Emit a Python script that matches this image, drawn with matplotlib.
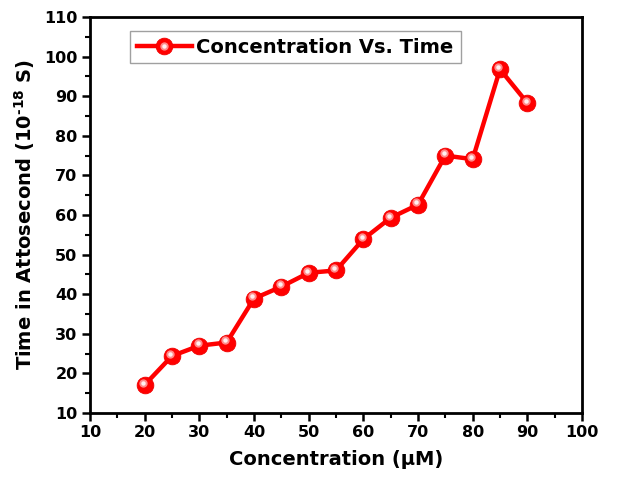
"""Concentration vs. time in attoseconds."""
import matplotlib
matplotlib.use("Agg")
import matplotlib.pyplot as plt
import matplotlib.transforms as mtransforms
from matplotlib.legend_handler import HandlerTuple
from matplotlib.ticker import MultipleLocator

# Data
conc = [20, 25, 30, 35, 40, 45, 50, 55, 60, 65, 70, 75, 80, 85, 90]
time_as = [17.1, 24.4, 27.0, 27.8, 38.9, 41.9, 45.4, 46.0, 53.9, 59.3,
           62.6, 75.0, 74.1, 96.8, 88.3]
x_ticks = [10, 20, 30, 40, 50, 60, 70, 80, 90, 100]
y_ticks = [10, 20, 30, 40, 50, 60, 70, 80, 90, 100, 110]

plt.rcParams["font.family"] = ["DejaVu Sans"]
plt.rcParams["font.weight"] = "bold"
plt.rcParams["mathtext.fontset"] = "custom"
plt.rcParams["mathtext.rm"] = "DejaVu Sans:bold"
plt.rcParams["mathtext.bf"] = "DejaVu Sans:bold"

fig = plt.figure(figsize=(6.22, 4.79), dpi=100)
ax = fig.add_axes([0.1447, 0.1378, 0.791, 0.8267])

line, = ax.plot(conc, time_as, color="#ff0000", lw=3.2, marker="o",
                markersize=12, markerfacecolor="#ff0000",
                markeredgecolor="#f00000", markeredgewidth=0.6, zorder=3)

# sphere-like highlight on each ball, shifted up-left
shift = mtransforms.ScaledTranslation(-1.3 / 72, 1.6 / 72, fig.dpi_scale_trans)
hl1, = ax.plot(conc, time_as, ls="none", marker="o", markersize=6,
               markerfacecolor="#ff8a8a", markeredgecolor="none",
               transform=ax.transData + shift, zorder=4)
hl2, = ax.plot(conc, time_as, ls="none", marker="o", markersize=3.2,
               markerfacecolor="#fff0f0", markeredgecolor="none",
               transform=ax.transData + shift, zorder=5)

ax.set_xlim(10, 100)
ax.set_ylim(10, 110)
ax.set_xticks(x_ticks)
ax.set_yticks(y_ticks)
ax.xaxis.set_minor_locator(MultipleLocator(5))
ax.yaxis.set_minor_locator(MultipleLocator(5))
ax.tick_params(which="major", direction="out", length=6, width=1.8,
               labelsize=11.5, pad=3)
ax.tick_params(which="minor", direction="out", length=3.5, width=1.5)
ax.tick_params(top=False, right=False)
for lbl in ax.get_xticklabels() + ax.get_yticklabels():
    lbl.set_fontweight("bold")

for sp in ax.spines.values():
    sp.set_linewidth(2.0)

ax.set_xlabel("Concentration (\u00b5M)", fontsize=14, fontweight="bold",
              labelpad=7)
ax.set_ylabel("Time in Attosecond (10$^{\\mathbf{\u201018}}$ S)", fontsize=14,
              fontweight="bold", labelpad=5)

leg = ax.legend([(line, hl1, hl2)], ["Concentration Vs. Time"],
                handler_map={tuple: HandlerTuple(ndivide=1, pad=0)},
                loc="upper left", bbox_to_anchor=(0.082, 0.965),
                fontsize=14, frameon=True, fancybox=False,
                handlelength=2.8, borderpad=0.35, handletextpad=0.25,
                borderaxespad=0.0)
leg.get_frame().set_edgecolor("#888888")
leg.get_frame().set_linewidth(1.0)
for t in leg.get_texts():
    t.set_fontweight("bold")

fig.savefig("out.png", dpi=100)
